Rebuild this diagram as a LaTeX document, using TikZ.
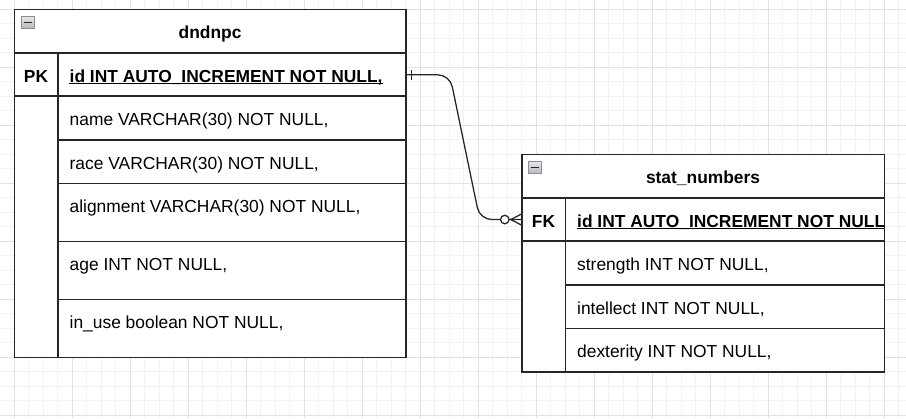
\documentclass[tikz,border=0pt]{standalone}
\usepackage{fontspec}
\setmainfont{Liberation Sans}
\usepackage{tikz}
\usetikzlibrary{positioning}
\definecolor{gridminor}{HTML}{F2F2F2}
\definecolor{gridmajor}{HTML}{E2E2E2}
\definecolor{framegray}{HTML}{262626}
\definecolor{boxedge}{HTML}{8A8E9C}
\newcommand{\tablefont}{\fontsize{13.05pt}{15.6pt}\selectfont}

\begin{document}
\begin{tikzpicture}[x=0.75pt, y=-0.75pt,
        every node/.style={inner sep=0pt, font=\tablefont},
        tableframe/.style={draw=framegray, line width=1.1pt},
        titletext/.style={anchor=base, font=\tablefont\bfseries},
        keytext/.style={anchor=base, font=\tablefont\bfseries},
        keyfield/.style={anchor=base west, font=\tablefont\bfseries},
        fieldtext/.style={anchor=base west},
        collapsebox/.style={draw=boxedge, line width=0.6pt, top color=gray!20, bottom color=gray!55},
        erline/.style={draw=framegray, line width=0.95pt},
        relation/.style={erline, rounded corners=9pt}]
        \fill[white] (0,0) rectangle (906,418);
        \useasboundingbox (0,0) rectangle (906,418);
        % background grid
        \foreach \k in {0,...,61}
            \draw[gridminor, line width=0.75pt] ({14.3+14.5*\k},0) -- ({14.3+14.5*\k},418);
        \foreach \k in {0,...,28}
            \draw[gridminor, line width=0.75pt] (0,{9.3+14.5*\k}) -- (906,{9.3+14.5*\k});
        \foreach \k in {0,...,15}
            \draw[gridmajor, line width=0.75pt] ({14.3+58*\k},0) -- ({14.3+58*\k},418);
        \foreach \k in {0,...,7}
            \draw[gridmajor, line width=0.75pt] (0,{9.3+58*\k}) -- (906,{9.3+58*\k});

        \begin{scope}[shift={(14.3,9.3)}]
            \fill[white] (0,0) rectangle (391.5,348);
            \draw[tableframe] (0,0) rectangle (391.5,348);
            \draw[tableframe] (0,43.5) -- (391.5,43.5);
            \draw[tableframe, line width=1.5pt] (0,87) -- (391.5,87);
            \draw[tableframe] (43.5,43.5) -- (43.5,348);
            \foreach \r in {130.5,174,232,290}
                \draw[tableframe] (43.5,\r) -- (391.5,\r);
            \draw[collapsebox] (7.4,7.4) rectangle (19.7,19);
            \draw[line width=1.3pt, black!85] (9.6,13.2) -- (17.5,13.2);
            \node[titletext] (dndnpc-title) at (195.75,29.3) {dndnpc};
            \node[keytext] (dndnpc-pk) at (21.75,72.8) {PK};
            \node[keyfield] (dndnpc-id) at (55.1,72.8) {id INT AUTO\_INCREMENT NOT NULL,};
            \draw[line width=1.1pt] ([yshift=-1.2pt]dndnpc-id.base west) -- ([yshift=-1.2pt]dndnpc-id.base east);
            \node[fieldtext] (dndnpc-name) at (55.1,116.3) {name VARCHAR(30) NOT NULL,};
            \node[fieldtext] (dndnpc-race) at (55.1,159.8) {race VARCHAR(30) NOT NULL,};
            \node[fieldtext] (dndnpc-align) at (55.1,203.3) {alignment VARCHAR(30) NOT NULL,};
            \node[fieldtext] (dndnpc-age) at (55.1,261.3) {age INT NOT NULL,};
            \node[fieldtext] (dndnpc-inuse) at (55.1,319.3) {in\_use boolean NOT NULL,};
            \coordinate (dndnpc-link) at (391.5,65.5);
        \end{scope}

        \begin{scope}[shift={(521.8,154.3)}]
            \fill[white] (0,0) rectangle (362.5,217.5);
            \draw[tableframe] (0,0) rectangle (362.5,217.5);
            \draw[tableframe] (0,43.5) -- (362.5,43.5);
            \draw[tableframe, line width=1.5pt] (0,87) -- (362.5,87);
            \draw[tableframe] (43.5,43.5) -- (43.5,217.5);
            \foreach \r in {130.5,174}
                \draw[tableframe] (43.5,\r) -- (362.5,\r);
            \draw[collapsebox] (6.7,6.9) rectangle (19.2,19.4);
            \draw[line width=1.3pt, black!85] (8.9,13.1) -- (17,13.1);
            \node[titletext] (stat-title) at (181.25,29.3) {stat\_numbers};
            \node[keytext] (stat-fk) at (21.75,72.8) {FK};
            \begin{scope}
                \clip (43.5,43.5) rectangle (362.5,87);
                \node[keyfield] (stat-id) at (55.1,72.8) {id INT AUTO\_INCREMENT NOT NULL,};
                \draw[line width=1.1pt] ([yshift=-1.2pt]stat-id.base west) -- ([yshift=-1.2pt]stat-id.base east);
            \end{scope}
            \node[fieldtext] (stat-str) at (55.1,116.3) {strength INT NOT NULL,};
            \node[fieldtext] (stat-int) at (55.1,159.8) {intellect INT NOT NULL,};
            \node[fieldtext] (stat-dex) at (55.1,203.3) {dexterity INT NOT NULL,};
            \coordinate (stat-link) at (0,65.25);
        \end{scope}

        % one to zero-or-many
        \draw[relation] (dndnpc-link) -- ++(44,0) -- ++(30,144.75) -- (stat-link);
        \draw[erline] (dndnpc-link) ++(6,-5.3) -- ++(0,10.6);
        \draw[erline, fill=white] (stat-link) ++(-17,0) circle[radius=3.2pt];
        \draw[erline] (stat-link) ++(0,-5.7) -- ++(-11,5.7) -- ++(11,5.7);
    \end{tikzpicture}
\end{document}
